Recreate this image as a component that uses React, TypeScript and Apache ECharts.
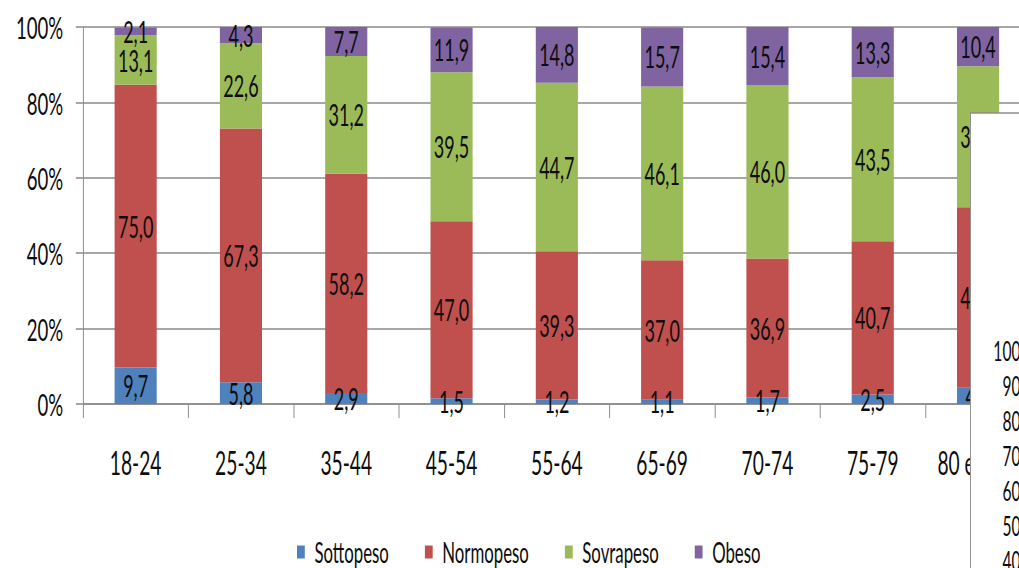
import { useEffect, useRef } from "react";
import * as echarts from "echarts";

// The chart is laid out on a wider canvas and compressed horizontally,
// giving the tall, narrow lettering and slim bars of the original figure.
// The canvas is wider than the visible frame so the last column can run
// past the right edge, under the overlapping second panel.
const SCALE_X = 0.6;
const VIEW_W = 1019;
const VIEW_H = 568;
const CHART_W = 1900;

const ageGroups = ["18-24", "25-34", "35-44", "45-54", "55-64", "65-69", "70-74", "75-79", "80 e oltre"];
const sottopeso = [9.7, 5.8, 2.9, 1.5, 1.2, 1.1, 1.7, 2.5, 4.3];
const normopeso = [75.0, 67.3, 58.2, 47.0, 39.3, 37.0, 36.9, 40.7, 47.9];
const sovrapeso = [13.1, 22.6, 31.2, 39.5, 44.7, 46.1, 46.0, 43.5, 37.4];
const obeso = [2.1, 4.3, 7.7, 11.9, 14.8, 15.7, 15.4, 13.3, 10.4];

const seriesNames = ["Sottopeso", "Normopeso", "Sovrapeso", "Obeso"];
const seriesColors = ["#4F81BD", "#C0504D", "#9BBB59", "#8064A2"];

// tick labels of the second chart panel that overlaps the right edge
const insetTicks = ["100%", "90%", "80%", "70%", "60%", "50%", "40%"];

const FONT = "Lato, 'Liberation Sans', sans-serif";
const WEIGHT = "normal";
const TEXT = "#0d0d0d";
const AXIS = "#8a8a8a";

const fmt = (v: number) => v.toFixed(1).replace(".", ",");

export default function App() {
  const ref = useRef<HTMLDivElement>(null);

  useEffect(() => {
    if (!ref.current) return;
    const chart = echarts.init(ref.current, undefined, { renderer: "svg" });

    const gridLeft = 83 / SCALE_X;
    const catW = 105.3 / SCALE_X;
    const gridTop = 27;
    const gridH = 377;
    const gridW = catW * ageGroups.length;

    const data = [sottopeso, normopeso, sovrapeso, obeso];

    const insetX = 970.5 / SCALE_X;
    const insetTop = 113;
    const insetLabelRight = 1033 / SCALE_X;

    chart.setOption({
      animation: false,
      backgroundColor: "#ffffff",
      textStyle: { fontFamily: FONT },
      grid: {
        left: gridLeft,
        top: gridTop,
        right: CHART_W - gridLeft - gridW,
        height: gridH,
        containLabel: false,
      },
      legend: {
        data: seriesNames,
        left: 495,
        top: 538,
        padding: 0,
        itemWidth: 13,
        itemHeight: 13,
        itemGap: 60,
        icon: "rect",
        textStyle: {
          fontFamily: FONT,
          fontWeight: WEIGHT,
          fontSize: 28,
          lineHeight: 28,
          color: TEXT,
          padding: [0, 0, 0, 11],
        },
      },
      xAxis: {
        type: "category",
        data: ageGroups,
        axisLine: { show: true, lineStyle: { color: AXIS, width: 1.5 } },
        axisTick: { show: true, alignWithLabel: false, length: 14, lineStyle: { color: AXIS, width: 1.6 } },
        axisLabel: {
          interval: 0,
          margin: 43,
          fontFamily: FONT,
          fontWeight: WEIGHT,
          fontSize: 32,
          lineHeight: 32,
          color: TEXT,
        },
        splitLine: { show: false },
      },
      yAxis: {
        type: "value",
        min: 0,
        max: 100,
        interval: 20,
        axisLine: { show: true, lineStyle: { color: AXIS, width: 1.6 } },
        axisTick: { show: true, length: 12, lineStyle: { color: AXIS, width: 1.5 } },
        axisLabel: {
          formatter: "{value}%",
          margin: 33,
          fontFamily: FONT,
          fontWeight: WEIGHT,
          fontSize: 31,
          color: TEXT,
        },
        splitLine: { show: true, lineStyle: { color: AXIS, width: 1.5 } },
      },
      series: seriesNames.map((name, i) => ({
        name,
        type: "bar",
        stack: "total",
        barWidth: "40%",
        z: 2,
        itemStyle: { color: seriesColors[i] },
        label: {
          show: true,
          position: "inside",
          formatter: (p: any) => fmt(p.value),
          fontFamily: FONT,
          fontWeight: WEIGHT,
          fontSize: 30,
          color: TEXT,
        },
        data: data[i],
      })),
      // second panel overlapping the lower right corner
      graphic: {
        zlevel: 0,
        z: 100,
        elements: [
          {
            type: "rect",
            z: 100,
            z2: 100,
            shape: { x: insetX, y: insetTop, width: 600, height: 600 },
            style: { fill: "#ffffff", stroke: "#8f8f8f", lineWidth: 1.6 },
          },
          ...insetTicks.map((t, i) => ({
            type: "text",
            z: 101,
            z2: 101,
            x: insetLabelRight,
            y: 351 + i * 35,
            style: {
              text: t,
              fontFamily: FONT,
              fontWeight: WEIGHT,
              fontSize: 26,
              fill: TEXT,
              align: "right",
              verticalAlign: "middle",
            },
          })),
        ],
      },
    });

    return () => chart.dispose();
  }, []);

  return (
    <div
      style={{
        position: "absolute",
        left: 0,
        top: 0,
        width: VIEW_W,
        height: VIEW_H,
        overflow: "hidden",
        background: "#ffffff",
      }}
    >
      <div
        ref={ref}
        style={{
          width: CHART_W,
          height: VIEW_H,
          transform: `scaleX(${SCALE_X})`,
          transformOrigin: "0 0",
        }}
      />
    </div>
  );
}
